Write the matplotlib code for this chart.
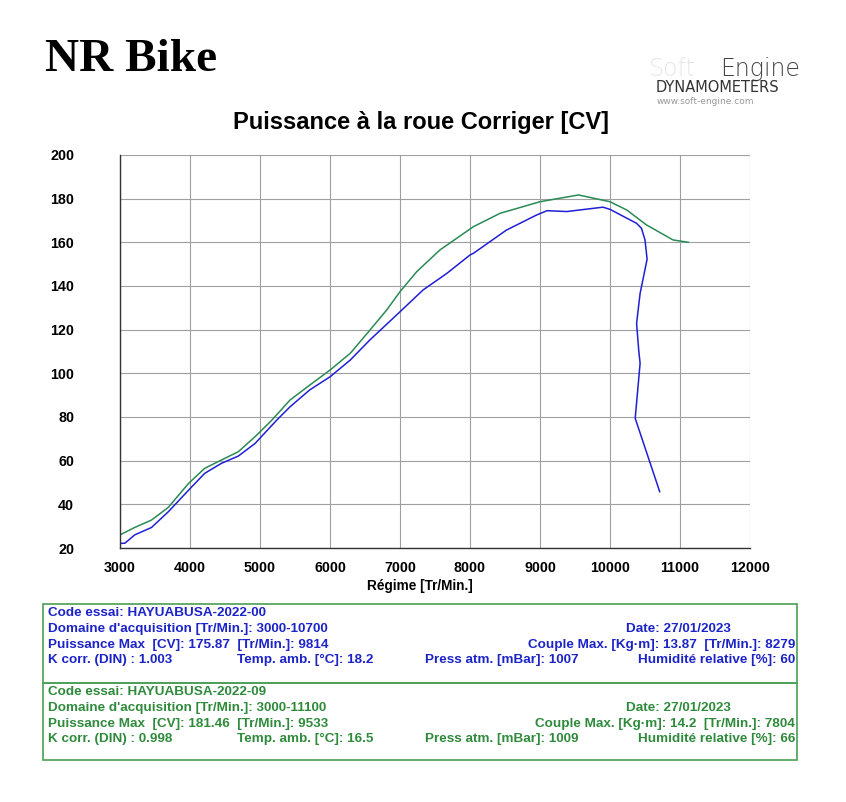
import matplotlib.pyplot as plt
import numpy as np
from matplotlib.patches import Rectangle

# Data (rpm, corrected wheel power CV)
rpm_00 = [3000, 3070, 3210, 3450, 3690, 3980, 4210, 4450, 4690, 4930, 5240, 5430,
          5710, 6000, 6290, 6570, 7000, 7330, 7670, 8000, 8050, 8520, 8950, 9100,
          9380, 9900, 10000, 10380, 10450, 10500, 10530, 10430, 10380, 10410, 10430,
          10360, 10710]
cv_00 = [22.1, 22.2, 26.0, 29.4, 36.6, 46.5, 54.2, 58.8, 62.1, 67.9, 78.6, 84.7,
         92.4, 98.4, 106.1, 115.3, 128.2, 138.2, 145.8, 154.2, 155.0, 165.6, 172.5, 174.5,
         174.1, 176.1, 175.1, 168.7, 166.4, 161.1, 152.3, 136.6, 122.9, 110.7, 104.6,
         79.4, 45.8]

rpm_09 = [3000, 3210, 3450, 3690, 3980, 4210, 4450, 4690, 4930, 5170, 5430, 5710,
          6000, 6290, 6570, 6810, 7000, 7240, 7570, 8050, 8430, 9000, 9550, 10000,
          10240, 10520, 10900, 11120]
cv_09 = [26.0, 29.4, 32.8, 38.6, 49.6, 56.5, 60.3, 64.1, 71.0, 78.6, 87.8, 94.6,
         101.5, 109.2, 119.8, 129.0, 137.4, 146.6, 156.5, 167.2, 173.3, 178.6, 181.7, 178.6,
         174.8, 168.0, 161.1, 160.0]

x_ticks = np.arange(3000, 12001, 1000)
y_ticks = np.arange(20, 201, 20)

info_00 = ["Code essai: HAYUABUSA-2022-00",
           "Domaine d'acquisition [Tr/Min.]: 3000-10700", "Date: 27/01/2023",
           "Puissance Max  [CV]: 175.87  [Tr/Min.]: 9814", "Couple Max. [Kg·m]: 13.87  [Tr/Min.]: 8279",
           "K corr. (DIN) : 1.003", "Temp. amb. [°C]: 18.2", "Press atm. [mBar]: 1007",
           "Humidité relative [%]: 60"]
info_09 = ["Code essai: HAYUABUSA-2022-09",
           "Domaine d'acquisition [Tr/Min.]: 3000-11100", "Date: 27/01/2023",
           "Puissance Max  [CV]: 181.46  [Tr/Min.]: 9533", "Couple Max. [Kg·m]: 14.2  [Tr/Min.]: 7804",
           "K corr. (DIN) : 0.998", "Temp. amb. [°C]: 16.5", "Press atm. [mBar]: 1009",
           "Humidité relative [%]: 66"]

blue = '#1f1fd6'
green = '#2a8a55'
txt_blue = '#1c24c8'
txt_green = '#2f8a3c'

W, H = 846, 802
fig = plt.figure(figsize=(W / 100, H / 100), dpi=100)
ax = fig.add_axes([120 / W, 1 - 548 / H, 630 / W, 393 / H])

ax.plot(rpm_09, cv_09, color=green, linewidth=1.1)
ax.plot(rpm_00, cv_00, color=blue, linewidth=1.1)

ax.set_xlim(3000, 12000)
ax.set_ylim(20, 200)
ax.set_xticks(x_ticks)
ax.set_yticks(y_ticks)
ax.tick_params(length=0, labelsize=10.3)
ax.tick_params(axis='y', pad=33)
ax.tick_params(axis='x', pad=9)
for lab in ax.get_xticklabels() + ax.get_yticklabels():
    lab.set_fontweight('bold')
    lab.set_fontfamily('Liberation Sans')
ax.grid(True, color='#a0a0a0', linewidth=0.8)
ax.set_axisbelow(True)
for s in ['top', 'right']:
    ax.spines[s].set_visible(False)
for s in ['left', 'bottom']:
    ax.spines[s].set_color('#333333')
    ax.spines[s].set_linewidth(1.0)
ax.set_xlabel('Régime [Tr/Min.]', fontsize=9.8, fontweight='bold',
              family='Liberation Sans')
ax.xaxis.set_label_coords((420 - 120) / 630, -(586 - 548) / 393)
ax.xaxis.label.set_va('center')

def px(x, y):
    return x / W, 1 - y / H

fig.text(*px(45, 60), 'NR Bike', fontsize=34, fontweight='bold',
         family='Liberation Serif', va='center', ha='left')
fig.text(*px(421, 123), 'Puissance à la roue Corriger [CV]', fontsize=17,
         fontweight='bold', family='Liberation Sans', ha='center', va='center')

# logo
fig.text(*px(672, 69), 'Soft', fontsize=17, color='#e6e6e6', family='DejaVu Sans',
         fontweight='light', ha='center', va='center')
fig.text(*px(760, 69), 'Engine', fontsize=17, color='#444444', family='DejaVu Sans',
         fontweight='light', ha='center', va='center')
fig.text(*px(717, 87), 'DYNAMOMETERS', fontsize=10.5, color='#333333',
         family='DejaVu Sans', ha='center', va='center')
fig.text(*px(705, 101), 'www.soft-engine.com', fontsize=6.5, color='#999999',
         family='DejaVu Sans', ha='center', va='center')

# info boxes
for top, bottom, info, col in [(604, 683, info_00, txt_blue), (683, 760, info_09, txt_green)]:
    fig.patches.append(Rectangle(px(43, bottom), 754 / W, (bottom - top) / H,
                                 transform=fig.transFigure, fill=False,
                                 edgecolor='#4a9e55', linewidth=1.2))
    ys = [top + 9, top + 25, top + 41, top + 56]
    kw = dict(fontsize=9.7, fontweight='bold', color=col, family='Liberation Sans', va='center')
    fig.text(*px(48, ys[0]), info[0], **kw)
    fig.text(*px(48, ys[1]), info[1], **kw)
    fig.text(*px(626, ys[1]), info[2], **kw)
    fig.text(*px(48, ys[2]), info[3], **kw)
    fig.text(*px(795, ys[2]), info[4], ha='right', **kw)
    fig.text(*px(48, ys[3]), info[5], **kw)
    fig.text(*px(237, ys[3]), info[6], **kw)
    fig.text(*px(425, ys[3]), info[7], **kw)
    fig.text(*px(795, ys[3]), info[8], ha='right', **kw)

fig.savefig('out.png', dpi=100)
